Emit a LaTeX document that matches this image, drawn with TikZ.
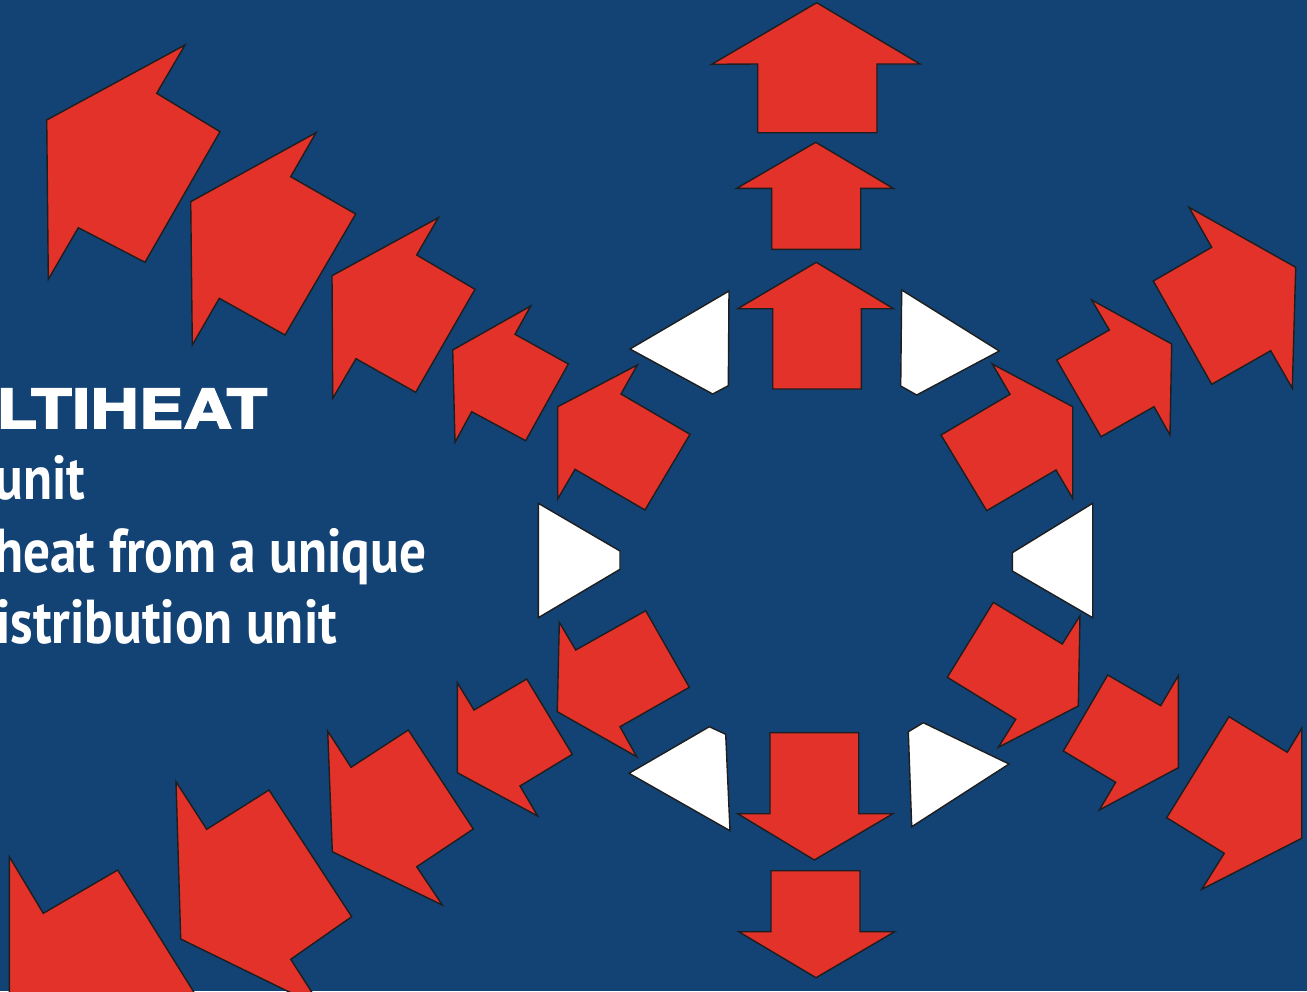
\documentclass[tikz,border=0pt]{standalone}
\usepackage{fontspec}
\newfontfamily\headfont{TeX Gyre Heros}[BoldFeatures={FakeBold=3,FakeStretch=1.24}]
\newfontfamily\bodyfont{PT Sans}[BoldFeatures={FakeStretch=0.86}]
\definecolor{bgblue}{RGB}{19,66,116}
\definecolor{arrowred}{RGB}{227,50,42}
\definecolor{edgegray}{RGB}{30,30,30}

\begin{document}
\begin{tikzpicture}[x=0.5pt, y=-0.5pt,
    redarrow/.style={fill=arrowred, draw=edgegray, line width=0.7pt},
    whitetri/.style={fill=white, draw=edgegray, line width=0.7pt},
    heading/.style={anchor=base west, text=white, inner sep=0pt, font=\headfont\bfseries\fontsize{27}{30}\selectfont},
    bodyline/.style={anchor=base west, text=white, inner sep=0pt, font=\bodyfont\bfseries\fontsize{31}{36}\selectfont}]
    \clip (0,0) rectangle (1307,991);
    \fill[bgblue] (0,0) rectangle (1307,991);

    \node[heading] (title) at (-4,428) {LTIHEAT};
    \node[bodyline] (line1) at (-6,499) {unit};
    \node[bodyline] (line2) at (-6,572) {heat from a unique};
    \node[bodyline] (line3) at (-4,643) {istribution unit};

    % up
    \draw[redarrow] (816.7,2.7) -- (920,64) -- (877,64) -- (877,132.7) -- (757.7,132.7) -- (757.7,64) -- (711.7,64.3) -- cycle;
    \draw[redarrow] (815.7,142.3) -- (893.3,188.3) -- (860.7,188.3) -- (860.7,249.3) -- (771.7,249.3) -- (771.7,188.3) -- (736.7,188.3) -- cycle;
    \draw[redarrow] (816.3,262.3) -- (893.3,308.7) -- (861.3,308.7) -- (861.3,389) -- (772.7,389) -- (772.7,308.7) -- (737.7,308.7) -- cycle;
    % down
    \draw[redarrow] (770,732.7) -- (858.7,732.7) -- (858.7,813.7) -- (893,813.7) -- (814.3,860) -- (737.7,813.7) -- (770,813.7) -- cycle;
    \draw[redarrow] (771,870.7) -- (860,870.7) -- (860,931.7) -- (894.7,931.7) -- (816,977.7) -- (738.7,931.7) -- (771,931.7) -- cycle;
    % up left
    \draw[redarrow] (185,45) -- (156.7,93.3) -- (220,131.7) -- (145,262.3) -- (78.3,227.7) -- (48.3,279.3) -- (46.7,120) -- cycle;
    \draw[redarrow] (316,132.7) -- (290.7,176.7) -- (355.7,214) -- (285,335) -- (219.3,298.3) -- (192.3,345) -- (190.7,201.7) -- cycle;
    \draw[redarrow] (438.3,217.7) -- (416.7,255) -- (475,289.3) -- (415.7,392.3) -- (356,358.7) -- (332.7,398.3) -- (332,275.7) -- cycle;
    \draw[redarrow] (530.7,306) -- (515,334.3) -- (568.3,364) -- (525.7,440.7) -- (471.7,411.7) -- (455,442.3) -- (452.7,350) -- cycle;
    \draw[redarrow] (637.3,365) -- (621,394) -- (690,434.3) -- (645,510) -- (575,469.3) -- (557.7,499) -- (557.7,406.7) -- cycle;
    % up right
    \draw[redarrow] (992.3,364) -- (1010,394.3) -- (941,435) -- (986.7,510.7) -- (1056,470) -- (1072.7,498.3) -- (1072.7,406.7) -- cycle;
    \draw[redarrow] (1091.7,300) -- (1109.3,330) -- (1056.7,360) -- (1101,436.7) -- (1154,406.7) -- (1170,435) -- (1171.7,344) -- cycle;
    \draw[redarrow] (1189,207.3) -- (1211.7,247.3) -- (1153.3,281) -- (1211.7,384.3) -- (1270.7,350.7) -- (1292.3,388.3) -- (1295.7,267.3) -- cycle;
    % down right
    \draw[redarrow] (993.3,602.3) -- (1062.3,644) -- (1080,615.7) -- (1078.3,706) -- (998.3,747.3) -- (1015.7,719.3) -- (947.3,677.3) -- cycle;
    \draw[redarrow] (1107.7,675) -- (1160.7,705.7) -- (1178.3,675.7) -- (1178.3,767.7) -- (1099.3,810) -- (1115.7,782.3) -- (1063.3,751) -- cycle;
    \draw[redarrow] (1229,716.7) -- (1287.3,752.3) -- (1301.7,728.3) -- (1301.7,838.3) -- (1201.7,889.3) -- (1224.3,853.3) -- (1166.7,817.7) -- cycle;
    % down left
    \draw[redarrow] (559.3,622.3) -- (575.7,650) -- (645.7,610.7) -- (689.3,687.3) -- (620,726.7) -- (636.7,756.7) -- (557.3,711.7) -- cycle;
    \draw[redarrow] (457.3,682.7) -- (474,710) -- (526.7,679) -- (572.3,754.3) -- (520,786) -- (537.7,816) -- (457.3,772.7) -- cycle;
    \draw[redarrow] (327.7,731) -- (351,767.3) -- (408.3,730) -- (473.3,829) -- (416.7,866.7) -- (442.3,905) -- (332.3,851.7) -- cycle;
    \draw[redarrow] (176,781.7) -- (206.7,829.3) -- (269,790) -- (351.7,916.7) -- (290.7,959.3) -- (322,1008) -- (180.7,939) -- cycle;
    \draw[redarrow] (9.3,856.7) -- (43.3,913.3) -- (117.7,870) -- (230,1050) -- (9.3,1100) -- cycle;

    % white wedges
    \draw[whitetri] (630,349) -- (729,291) -- (728.3,385.7) -- (712.7,394) -- cycle;
    \draw[whitetri] (901.7,290) -- (999.3,351) -- (916.7,395) -- (900.7,386) -- cycle;
    \draw[whitetri] (538.3,503.3) -- (620,551) -- (620,569.3) -- (538.3,617.7) -- cycle;
    \draw[whitetri] (1092.7,503.3) -- (1092.7,617.7) -- (1012.3,571) -- (1012.3,552.7) -- cycle;
    \draw[whitetri] (629,773.3) -- (709.3,726.7) -- (725.7,734.3) -- (730,830.7) -- cycle;
    \draw[whitetri] (908.3,731.7) -- (923.3,722.7) -- (1009,764) -- (911.7,826.7) -- cycle;
\end{tikzpicture}
\end{document}
